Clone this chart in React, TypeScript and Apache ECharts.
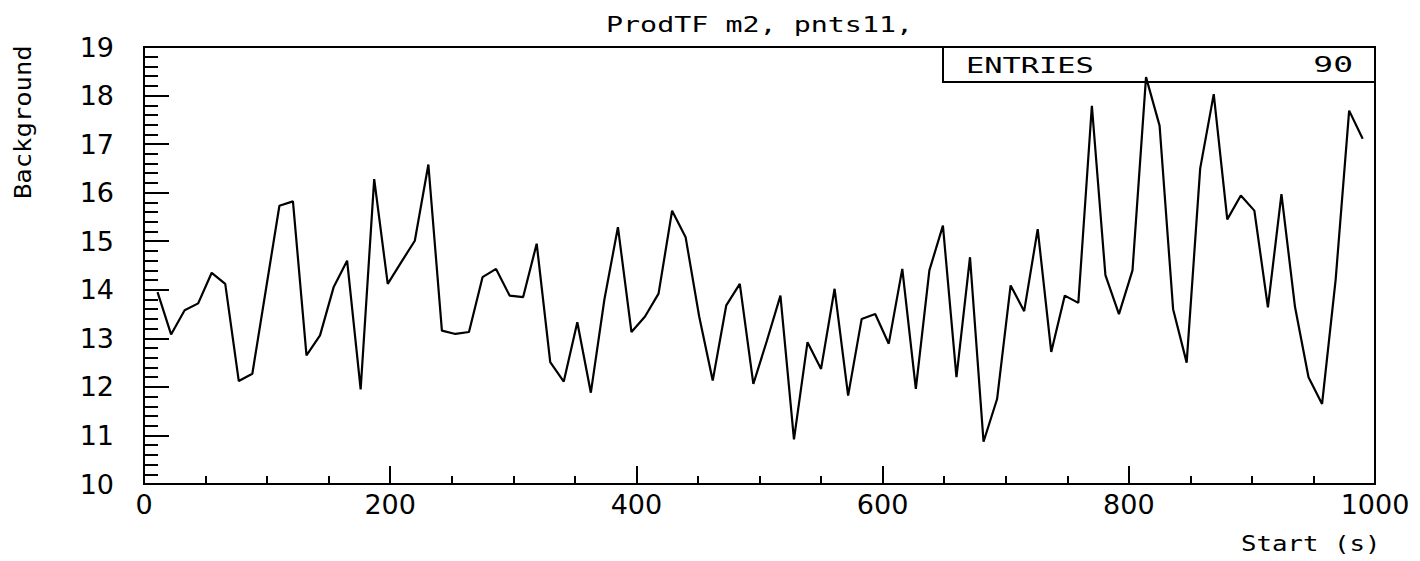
import React, { useEffect, useRef } from "react";
import * as echarts from "echarts";

const TITLE = "ProdTF m2, pnts11,";
const X_NAME = "Start (s)";
const Y_NAME = "Background";
const ENTRIES_LABEL = "ENTRIES";
const ENTRIES_VALUE = "90";

const X_MIN = 0;
const X_MAX = 1000;
const X_STEP = 200;
const Y_MIN = 10;
const Y_MAX = 19;
const Y_STEP = 1;

const startTimes = [
  11, 22, 33, 44, 55, 66, 77, 88, 99, 110,
  121, 132, 143, 154, 165, 176, 187, 198, 209, 220,
  231, 242, 253, 264, 275, 286, 297, 308, 319, 330,
  341, 352, 363, 374, 385, 396, 407, 418, 429, 440,
  451, 462, 473, 484, 495, 506, 517, 528, 539, 550,
  561, 572, 583, 594, 605, 616, 627, 638, 649, 660,
  671, 682, 693, 704, 715, 726, 737, 748, 759, 770,
  781, 792, 803, 814, 825, 836, 847, 858, 869, 880,
  891, 902, 913, 924, 935, 946, 957, 968, 979, 990,
];

const background = [
  13.95, 13.08, 13.58, 13.72, 14.35, 14.12, 12.12, 12.27, 14.0, 15.73,
  15.82, 12.65, 13.06, 14.05, 14.6, 11.95, 16.28, 14.12, 14.57, 15.01,
  16.58, 13.16, 13.09, 13.13, 14.26, 14.43, 13.88, 13.85, 14.95, 12.51,
  12.11, 13.33, 11.88, 13.8, 15.29, 13.13, 13.45, 13.92, 15.63, 15.08,
  13.45, 12.13, 13.68, 14.12, 12.06, 12.95, 13.88, 10.92, 12.92, 12.37,
  14.02, 11.82, 13.4, 13.5, 12.89, 14.43, 11.96, 14.4, 15.32, 12.2,
  14.67, 10.87, 11.75, 14.09, 13.56, 15.25, 12.72, 13.88, 13.73, 17.79,
  14.3, 13.5, 14.4, 18.38, 17.38, 13.6, 12.5, 16.5, 18.03, 15.45,
  15.94, 15.63, 13.64, 15.97, 13.65, 12.2, 11.65, 14.2, 17.69, 17.11,
];

const MONO = '"DejaVu Sans Mono", monospace';
const SANS = '"DejaVu Sans", sans-serif';

function textEl(text: string, x: number, y: number, size: number, scaleX: number, align: string, rotation = 0) {
  return {
    type: "text",
    x,
    y,
    rotation,
    scaleX,
    silent: true,
    style: {
      text,
      fontSize: size,
      fontFamily: MONO,
      fill: "#000",
      textAlign: align,
      align,
      textVerticalAlign: "middle",
      verticalAlign: "middle",
    },
  };
}

export default function App() {
  const ref = useRef<HTMLDivElement>(null);

  useEffect(() => {
    if (!ref.current) return;
    const chart = echarts.init(ref.current, null, { renderer: "svg" });
    const data = startTimes.map((t, i) => [t, background[i]]);
    const tickStyle = { color: "#000", width: 2 };
    const plain = (v: number) => String(v);

    chart.setOption({
      animation: false,
      backgroundColor: "#fff",
      grid: {
        left: 144,
        right: 45,
        top: 47,
        bottom: 77,
        show: true,
        borderColor: "#000",
        borderWidth: 2,
        backgroundColor: "transparent",
      },
      xAxis: {
        type: "value",
        min: X_MIN,
        max: X_MAX,
        interval: X_STEP,
        axisLine: { show: true, onZero: false, lineStyle: tickStyle },
        axisTick: { show: true, inside: true, length: 18, lineStyle: tickStyle },
        minorTick: { show: true, splitNumber: 4, length: 8, lineStyle: tickStyle },
        splitLine: { show: false },
        minorSplitLine: { show: false },
        axisLabel: {
          color: "#000",
          fontFamily: SANS,
          fontSize: 27,
          margin: 7,
          formatter: plain,
          showMinLabel: true,
          showMaxLabel: true,
        },
      },
      yAxis: {
        type: "value",
        min: Y_MIN,
        max: Y_MAX,
        interval: Y_STEP,
        axisLine: { show: true, onZero: false, lineStyle: tickStyle },
        axisTick: { show: true, inside: true, length: 25, lineStyle: tickStyle },
        minorTick: { show: true, splitNumber: 5, length: 14, lineStyle: tickStyle },
        splitLine: { show: false },
        minorSplitLine: { show: false },
        axisLabel: {
          color: "#000",
          fontFamily: SANS,
          fontSize: 27,
          margin: 30,
          padding: [5, 0, 0, 0],
          formatter: plain,
          showMinLabel: true,
          showMaxLabel: true,
        },
      },
      series: [
        {
          type: "line",
          data,
          showSymbol: false,
          symbol: "none",
          smooth: false,
          lineStyle: { color: "#000", width: 2.2 },
          itemStyle: { color: "#000" },
          z: 5,
        },
      ],
      graphic: [
        {
          type: "rect",
          shape: { x: 943, y: 47, width: 432, height: 35 },
          style: { fill: "none", stroke: "#000", lineWidth: 2 },
          silent: true,
        },
        textEl(TITLE, 606, 24.5, 21, 1.35, "left"),
        textEl(ENTRIES_LABEL, 966, 64.8, 22, 1.38, "left"),
        textEl(ENTRIES_VALUE, 1353, 64.8, 22, 1.5, "right"),
        textEl(X_NAME, 1241, 543.3, 22, 1.17, "left"),
        textEl(Y_NAME, 23.4, 199, 23, 1.11, "left", Math.PI / 2),
      ],
    });

    return () => {
      chart.dispose();
    };
  }, []);

  return (
    <div
      ref={ref}
      style={{ position: "absolute", left: 0, top: 0, width: 1420, height: 561, background: "#fff" }}
    />
  );
}
